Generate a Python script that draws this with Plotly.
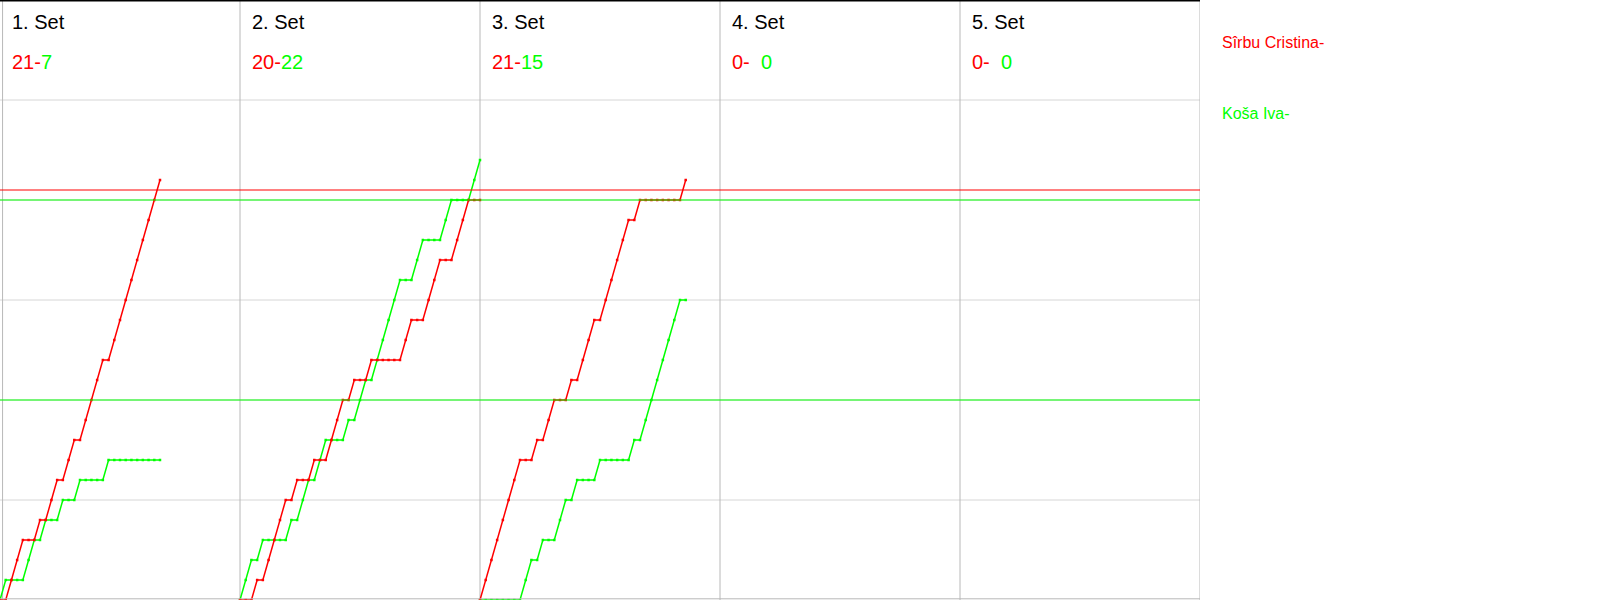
import plotly.graph_objects as go

# ---- data ----
set_titles = ["1. Set", "2. Set", "3. Set", "4. Set", "5. Set"]
red_scores = [21, 20, 21, 0, 0]
green_scores = [7, 22, 15, 0, 0]
player_red = "Sîrbu Cristina-"
player_green = "Koša Iva-"

# rally winners per set (R = red player, G = green player)
set1_winners = list("GRRRGGRGRRGRRGRRRRGRRRRRRRRR")
set2_winners = list("GGRGRRRRGRGGRGGRRRGRGGRGGGGGRRGGRRRGGRRRGG")
set3_winners = list("RRRRRRRGGRGRRGGRGRRRGRRRRRGRGGGGGGGR")
set_winners = [set1_winners, set2_winners, set3_winners, [], []]

red_ref_levels = [20.5]
green_ref_levels = [20, 10]

RALLIES_PER_SET = 42
RED = "#ff0000"
GREEN = "#00ff00"

fig = go.Figure()

for k, winners in enumerate(set_winners):
    if not winners:
        continue
    off = k * RALLIES_PER_SET
    xs = [off]
    r = [0]
    g = [0]
    for i, w in enumerate(winners, start=1):
        xs.append(off + i)
        r.append(r[-1] + (1 if w == "R" else 0))
        g.append(g[-1] + (1 if w == "G" else 0))
    for ys, col in ((g, GREEN), (r, RED)):
        fig.add_trace(go.Scatter(
            x=xs, y=ys, mode="lines+markers",
            line=dict(color=col, width=1.5),
            marker=dict(symbol="square", size=2.5, color=col,
                        line=dict(width=0)),
            showlegend=False, hoverinfo="skip"))

shapes = []
n_sets = len(set_titles)
total = n_sets * RALLIES_PER_SET
# horizontal grid
for yv in range(5, 30, 5):
    shapes.append(dict(type="line", xref="x", yref="y", x0=0, x1=total,
                       y0=yv, y1=yv, line=dict(color="#d6d6d6", width=1),
                       layer="below"))
# vertical panel separators
for k in range(0, n_sets + 1):
    xv = k * RALLIES_PER_SET
    if k == 0:
        xv = 0.45
    shapes.append(dict(type="line", xref="x", yref="y", x0=xv, x1=xv,
                       y0=0, y1=30, line=dict(color="#b8b8b8", width=1),
                       layer="below"))
# bottom border
shapes.append(dict(type="line", xref="x", yref="paper", x0=0, x1=total,
                   y0=0.002, y1=0.002, line=dict(color="#b8b8b8", width=1)))
# top border
shapes.append(dict(type="line", xref="x", yref="paper", x0=0, x1=total,
                   y0=0.999, y1=0.999, line=dict(color="#000000", width=2)))
# reference lines
for yv in red_ref_levels:
    shapes.append(dict(type="line", xref="x", yref="y", x0=0, x1=total,
                       y0=yv, y1=yv, line=dict(color=RED, width=1)))
for yv in green_ref_levels:
    shapes.append(dict(type="line", xref="x", yref="y", x0=0, x1=total,
                       y0=yv, y1=yv, line=dict(color=GREEN, width=1)))

annotations = []
FONT = "Liberation Sans, Arial, sans-serif"
for k, title in enumerate(set_titles):
    xl = k * RALLIES_PER_SET + 10 / (1200 / total)
    annotations.append(dict(x=xl, y=1 - 22 / 600, xref="x", yref="paper",
                            text=title, showarrow=False, xanchor="left",
                            yanchor="middle",
                            font=dict(family=FONT, size=20, color="#000000")))
    gtxt = str(green_scores[k])
    if green_scores[k] == 0:
        gtxt = "&nbsp;&nbsp;" + gtxt
    txt = (f'<span style="color:{RED}">{red_scores[k]}-</span>'
           f'<span style="color:{GREEN}">{gtxt}</span>')
    annotations.append(dict(x=xl, y=1 - 62 / 600, xref="x", yref="paper",
                            text=txt, showarrow=False, xanchor="left",
                            yanchor="middle",
                            font=dict(family=FONT, size=20, color=RED)))

annotations.append(dict(x=1220 / 1200, y=1 - 43 / 600, xref="paper",
                        yref="paper", text=player_red, showarrow=False,
                        xanchor="left", yanchor="middle",
                        font=dict(family=FONT, size=16, color=RED)))
annotations.append(dict(x=1220 / 1200, y=1 - 114 / 600, xref="paper",
                        yref="paper", text=player_green, showarrow=False,
                        xanchor="left", yanchor="middle",
                        font=dict(family=FONT, size=16, color=GREEN)))

fig.update_layout(
    width=1600, height=600,
    margin=dict(l=0, r=400, t=0, b=0),
    paper_bgcolor="#ffffff", plot_bgcolor="#ffffff",
    xaxis=dict(range=[0, total], visible=False, fixedrange=True),
    yaxis=dict(range=[0, 30], visible=False, fixedrange=True),
    shapes=shapes, annotations=annotations,
    showlegend=False,
)

fig.write_html("out.html",
               config={"displayModeBar": False, "staticPlot": True},
               post_script="document.body.style.margin='0';document.body.style.overflow='hidden';")
